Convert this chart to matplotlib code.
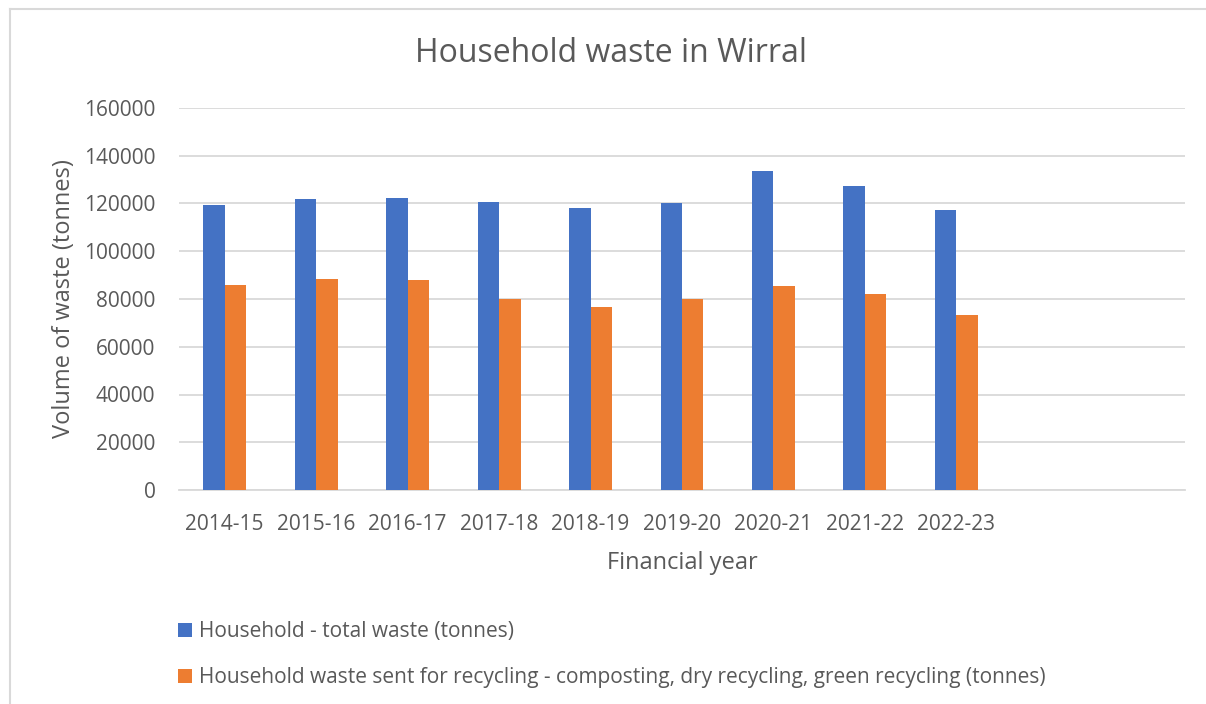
import numpy as np
import matplotlib
matplotlib.use("Agg")
import matplotlib.pyplot as plt
from matplotlib.lines import Line2D

years = ["2014-15", "2015-16", "2016-17", "2017-18", "2018-19",
         "2019-20", "2020-21", "2021-22", "2022-23"]
total_waste = [119300, 121700, 122100, 120700, 118000,
               120300, 133500, 127500, 117200]
recycled_waste = [85700, 88300, 87800, 80100, 76700,
                  80100, 85300, 82300, 73100]
n_slots = 11  # the chart leaves room for two empty categories

label_total = "Household - total waste (tonnes)"
label_recycled = ("Household waste sent for recycling - composting, dry recycling, "
                  "green recycling (tonnes)")

txt = "#595959"
grid = "#D9D9D9"
plt.rcParams['font.family'] = ['Open Sans', 'DejaVu Sans']

fig = plt.figure(figsize=(12.06, 7.04), dpi=100)
ax = fig.add_axes([179/1206, 1 - 490/704, (1185 - 179)/1206, (490 - 108)/704])

x = np.arange(len(years))
w = 0.235
ax.bar(x - w/2, total_waste, w, color="#4472C4", label=label_total, zorder=3)
ax.bar(x + w/2, recycled_waste, w, color="#ED7D31", label=label_recycled, zorder=3)

ax.set_xlim(-0.5, n_slots - 0.5)
ax.set_ylim(0, 160000)
ax.set_yticks(np.arange(0, 160001, 20000))
ax.set_xticks(np.arange(n_slots))
ax.set_xticklabels(years + [""] * (n_slots - len(years)))
ax.tick_params(length=0, labelsize=15, colors=txt)
ax.tick_params(axis='y', pad=17)
ax.tick_params(axis='x', pad=17)
ax.yaxis.grid(True, color=grid, lw=1.3, zorder=0)
for s in ["top", "right", "left"]:
    ax.spines[s].set_visible(False)
ax.spines["bottom"].set_color(grid)
ax.spines["bottom"].set_linewidth(1.3)

ax.set_xlabel("Financial year", fontsize=17, color=txt, labelpad=12)
ax.set_ylabel("Volume of waste (tonnes)", fontsize=17, color=txt, labelpad=6)
fig.text(611/1206, 1 - 54/704, "Household waste in Wirral", fontsize=23,
         color=txt, ha="center", va="center")

leg = fig.legend(loc="upper left", bbox_to_anchor=(178/1206, 1 - 621/704),
                 frameon=False, fontsize=15, handlelength=0.65, handleheight=0.65,
                 handletextpad=0.35, labelspacing=1.2, borderpad=0,
                 borderaxespad=0)
for t in leg.get_texts():
    t.set_color(txt)

# outer chart border (top and left edges visible in the crop)
fig.add_artist(Line2D([10/1206, 1], [1 - 9/704, 1 - 9/704], color=grid, lw=1.5,
                      transform=fig.transFigure))
fig.add_artist(Line2D([10/1206, 10/1206], [0, 1 - 9/704], color=grid, lw=1.5,
                      transform=fig.transFigure))

fig.savefig("out.png", dpi=100)
